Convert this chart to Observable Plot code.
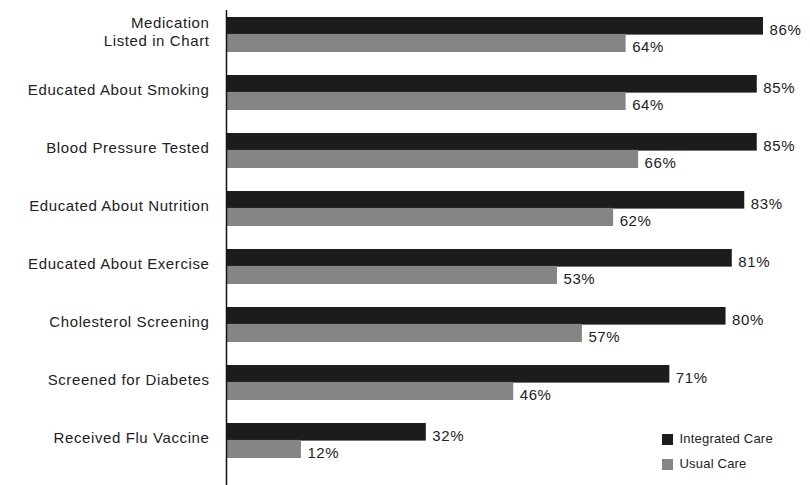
<!DOCTYPE html>
<html>
<head>
<meta charset="utf-8">
<script src="https://cdn.jsdelivr.net/npm/d3@7"></script>
<script src="https://cdn.jsdelivr.net/npm/@observablehq/plot@0.6"></script>
<style>
  html, body { margin: 0; padding: 0; background: #fff; }
  #wrap { position: relative; width: 810px; height: 485px; }
  #legend { position: absolute; left: 662px; top: 427px; }
</style>
</head>
<body>
<div id="wrap"><div id="chart"></div><div id="legend"></div></div>
<script>
const categories = [
  "Medication\nListed in Chart",
  "Educated About Smoking",
  "Blood Pressure Tested",
  "Educated About Nutrition",
  "Educated About Exercise",
  "Cholesterol Screening",
  "Screened for Diabetes",
  "Received Flu Vaccine"
];
const integratedCare = [86, 85, 85, 83, 81, 80, 71, 32];
const usualCare = [64, 64, 66, 62, 53, 57, 46, 12];
const seriesNames = ["Integrated Care", "Usual Care"];
const seriesColors = ["#1c1c1c", "#858585"];

const rows = categories.flatMap((c, i) => [
  {category: c, series: seriesNames[0], value: integratedCare[i]},
  {category: c, series: seriesNames[1], value: usualCare[i]}
]);
const integ = rows.filter(d => d.series === seriesNames[0]);
const usual = rows.filter(d => d.series === seriesNames[1]);

const font = "'Liberation Sans', Arial, sans-serif";
const half = 17.4;

const chart = Plot.plot({
  width: 810,
  height: 485,
  marginTop: 10,
  marginBottom: 0,
  marginLeft: 226,
  marginRight: 0,
  style: {fontFamily: font, fontSize: "15px", color: "#222", letterSpacing: "0.6px", background: "#fff"},
  x: {domain: [0, 86], range: [226, 763], axis: null},
  y: {domain: categories, range: [17, 458], paddingInner: 0.4, paddingOuter: 0, axis: null},
  color: {domain: seriesNames, range: seriesColors},
  marks: [
    Plot.barX(integ, {y: "category", x: "value", fill: "series", insetBottom: half}),
    Plot.barX(usual, {y: "category", x: "value", fill: "series", insetTop: half - 0.5}),
    Plot.text(integ, {y: "category", x: "value", text: d => d.value + "%", dx: 6, dy: -5, textAnchor: "start", fontSize: 15, fill: "#222"}),
    Plot.text(usual, {y: "category", x: "value", text: d => d.value + "%", dx: 6, dy: 12, textAnchor: "start", fontSize: 15, fill: "#222"}),
    Plot.axisY({tickSize: 0, tickPadding: 17, dy: -4, fontSize: 15, lineHeight: 1.25, fill: "#222", label: null, style: {letterSpacing: "0.8px"}}),
    Plot.ruleX([0], {stroke: "#111", strokeWidth: 1.5})
  ]
});
document.getElementById("chart").appendChild(chart);

const legend = Plot.legend({
  color: {domain: seriesNames, range: seriesColors},
  swatchSize: 11,
  columns: 1,
  style: {fontFamily: font, fontSize: "13px", color: "#222", letterSpacing: "0.2px", lineHeight: "24px"}
});
document.getElementById("legend").appendChild(legend);
</script>
</body>
</html>
